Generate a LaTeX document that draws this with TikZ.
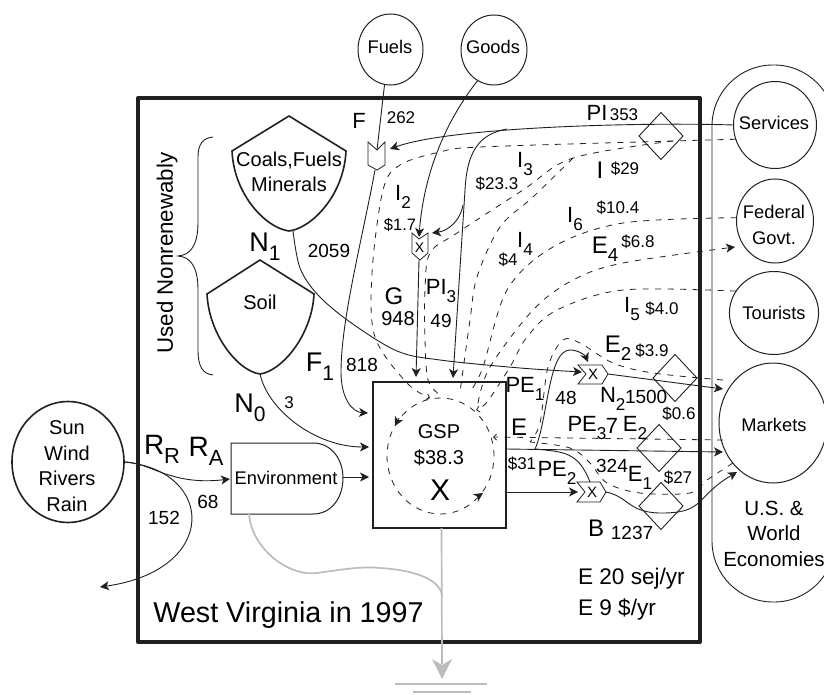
\documentclass[tikz,border=0pt]{standalone}
\usepackage{fontspec}
\setmainfont{Liberation Sans}
\usetikzlibrary{arrows.meta,shapes.geometric}
\definecolor{ink}{HTML}{231F20}
\definecolor{ash}{HTML}{BBBCBE}
\newcommand\sbs[1]{\raisebox{-0.33em}{\scalebox{0.78}{#1}}}
\tikzset{
 tip/.tip={Stealth[length=9pt,width=9pt,inset=2.5pt]},
 mini/.tip={Straight Barb[length=3pt,width=6pt]},
 every node/.style={inner sep=0pt,outer sep=0pt,text=black},
 fl/.style={line width=0.9pt,draw=ink},
 da/.style={line width=0.8pt,draw=ink,dash pattern=on 6pt off 6.5pt},
 circ/.style={ellipse,draw=ink,line width=1pt,align=center,font=\fontsize{18.3}{26}\selectfont},
 dia/.style={diamond,draw=ink,line width=0.9pt,minimum width=44pt,minimum height=47pt},
 valve/.style={line width=0.8pt,draw=ink,line join=miter},
 shield/.style={line width=1.6pt,draw=ink},
 t16/.style={font=\fontsize{16.5}{17}\selectfont},
 t17/.style={font=\fontsize{17}{17}\selectfont},
 t19/.style={font=\fontsize{19}{19}\selectfont},
 t22/.style={font=\fontsize{22}{22}\selectfont},
 t24/.style={font=\fontsize{24}{24}\selectfont},
 t27/.style={font=\fontsize{27}{27}\selectfont},
}
\begin{document}
\begin{tikzpicture}[x=1pt,y=-1pt]
\useasboundingbox (0,0) rectangle (824,695);
% frame
\draw[line width=4pt,draw=ink,line join=round] (138,98) rectangle (700,642);
% economies
\begin{scope}
\clip (0,0) rectangle (824,695);
\draw[line width=0.9pt,draw=ink,rounded corners=61pt] (712,65) rectangle (835,602);
\end{scope}
% source nodes
\node[circ,fill=white,minimum width=83pt,minimum height=87pt] (services) at (775,125) {};
\node[font=\fontsize{18.3}{19}\selectfont] (servicestxt) at (774,123) {Services};
\node[circ,fill=white,minimum width=77pt,minimum height=84pt] (federal) at (775,221) {};
\node[align=center,font=\fontsize{18.3}{26}\selectfont] (federaltxt) at (774,225) {Federal\\Govt.};
\node[circ,fill=white,minimum width=78pt,minimum height=83pt] (tourists) at (774,313) {Tourists};
\node[circ,fill=white,minimum width=108pt,minimum height=120pt] (markets) at (773,423) {};
\node[font=\fontsize{18.3}{19}\selectfont] (marketstxt) at (774,425) {Markets};
\node[circ,minimum width=65pt,minimum height=71pt] (fuels) at (390.5,49.5) {};
\node[font=\fontsize{18.3}{19}\selectfont] (fuelstxt) at (390,47) {Fuels};
\node[circ,minimum width=66pt,minimum height=70pt] (goods) at (494,50) {};
\node[font=\fontsize{18.3}{19}\selectfont] (goodstxt) at (493,47) {Goods};
\node[circ,line width=1.6pt,minimum width=112pt,minimum height=121pt] (sun) at (68,462) {};
\node[align=center,font=\fontsize{20}{25.7}\selectfont] (suntxt) at (67,466) {Sun\\Wind\\Rivers\\Rain};
\node[align=center,font=\fontsize{20.5}{25.5}\selectfont] (econ) at (774,533.5) {U.S. \&\\World\\Economies};
% shields
\draw[shield] (289,116) -- (346,151) .. controls (344,195) and (312,228) .. (289,231) .. controls (266,228) and (234,195) .. (232,151) -- cycle;
\draw[shield] (260,260) -- (314,294) .. controls (312,335) and (282,371) .. (260,374) .. controls (238,371) and (209,335) .. (207,294) -- cycle;
\node[align=center,font=\fontsize{20}{25}\selectfont] (coals) at (289,171.5) {Coals,Fuels\\Minerals};
\node[font=\fontsize{20}{20}\selectfont] (soil) at (260,302) {Soil};
\coordinate (coalsB) at (293,231);
\coordinate (soilB) at (260,374);
% brace
\draw[fl] (213,137) .. controls (203,138) and (198,144) .. (198,157) -- (198,222) .. controls (198,243) and (192,255) .. (178,256) .. controls (192,257) and (198,269) .. (198,290) -- (198,350) .. controls (198,367) and (203,374) .. (213,375);
\node[rotate=90,font=\fontsize{22.3}{23}\selectfont] (used) at (167,253) {Used Nonrenewably};
% environment
\draw[line width=1pt,draw=ink] (313,443) -- (231,443) -- (231,514) -- (313,514) .. controls (332,514) and (343,497) .. (343,478) .. controls (343,460) and (332,443) .. (313,443) -- cycle;
\node[font=\fontsize{18.3}{19}\selectfont] (envt) at (286,478) {Environment};
\coordinate (envW) at (230,479);
\coordinate (envE) at (343,477);
\coordinate (envS) at (249,514);
% GSP
\node[draw=ink,line width=2pt,minimum width=133pt,minimum height=146pt] (gsp) at (439.5,455) {};
\node[font=\fontsize{20}{26}\selectfont,align=center] (gsptxt) at (439,445) {GSP\\\$38.3};
\node[font=\fontsize{30}{30}\selectfont] (gspx) at (440,490) {X};
\node[ellipse,da,draw,minimum width=107pt,minimum height=116pt] (cyc) at (440.5,456) {};
\draw[fl,-tip] (399,418) -- (395,426);
\draw[fl,-tip] (477,497) -- (483,493);
% diamonds
\node[dia] (dPI) at (661,136) {};
\node[dia] (dE2a) at (675,378) {};
\node[dia] (dE2b) at (659,448) {};
\node[dia] (dE1) at (661,506) {};
% valves
\draw[valve] (368,142) -- (377,150) -- (385,142) -- (385,165) -- (377,170) -- (368,165) -- cycle;
\coordinate (vFin) at (377,150); \coordinate (vFout) at (375,170); \coordinate (vFr) at (390,149);
\draw[valve] (412,233) -- (419,239) -- (428,233) -- (428,253) -- (420,260) -- (412,253) -- cycle;
\node[font=\fontsize{14}{14}\selectfont] (vGx) at (419.5,248) {X};
\coordinate (vGin) at (419,237); \coordinate (vGout) at (419,260); \coordinate (vGr) at (432,233);
\draw[valve] (578,365) -- (602,365) -- (608,374) -- (602,384) -- (578,384) -- (586,374) -- cycle;
\node[font=\fontsize{15}{15}\selectfont] (vNx) at (593,374) {X};
\coordinate (vNw) at (582,372); \coordinate (vNe) at (608,374); \coordinate (vNt) at (588,362);
\draw[valve] (577,482) -- (600,482) -- (606,492) -- (600,502) -- (577,502) -- (585,492) -- cycle;
\node[font=\fontsize{15}{15}\selectfont] (vBx) at (592,492) {X};
\coordinate (vBw) at (578,492); \coordinate (vBe) at (606,492); \coordinate (vBt) at (590,482);
% solid flows
\draw[fl] (fuels.south) ++(-6,0) -- (vFin);
\draw[fl,-tip] (goods.-118) .. controls (448,118) and (424,170) .. (vGin);
\draw[fl,-tip] (services.west) .. controls (640,122) and (450,127) .. (vFr);
\draw[fl] (507,129) .. controls (480,134) and (467,150) .. (465,190);
\draw[fl,-tip] (465,190) -- (453,378);
\draw[fl,-tip] (463,205) .. controls (460,222) and (447,231) .. (vGr);
\draw[fl,-tip] (vGout) -- (416,377);
\draw[fl,-tip] (vFout) .. controls (362,240) and (341,320) .. (341,372) .. controls (341,398) and (352,412) .. (368,413);
\draw[fl,-tip] plot[smooth,tension=.55] coordinates {(coalsB) (300,268) (318,295) (350,322) (397,351) (440,360) (520,368) (vNw)};
\draw[fl,-tip] (vNe) -- (723,389);
\draw[fl,-tip] (soilB) .. controls (268,410) and (315,447) .. (369,447);
\draw[fl,-tip] (envE) -- (369,477);
\draw[fl,-tip] (sun.east) .. controls (150,462) and (170,486) .. (envW);
\draw[fl,-tip] (sun.east) .. controls (215,470) and (220,570) .. (100,587);
\draw[fl,-tip] (506,449) -- (723,452);
\draw[fl,-tip] (535,449) .. controls (548,420) and (548,350) .. (570,350) .. controls (578,350) and (585,355) .. (vNt);
\draw[fl] (535,449) .. controls (565,452) and (578,452) .. (vBt);
\draw[fl,-tip] (506,492) -- (vBw);
\draw[fl,-tip] (vBe) .. controls (630,497) and (628,514) .. (665,513) .. controls (705,512) and (695,497) .. (737,472);
% dashed flows
\draw[da,-mini] plot[smooth,tension=.55] coordinates {(services.200) (673,141) (480,147) (440,152) (400,165) (383,190) (372,273) (375,337) (407,383) (430,398)};
\draw[da] plot[smooth,tension=.55] coordinates {(673,141) (573,158) (523,190) (457,233) (430,253) (425,290) (425,340) (428,380) (440,395)};
\draw[da] plot[smooth,tension=.55] coordinates {(573,158) (533,197) (500,227) (477,277) (470,320) (460,392)};
\draw[da] plot[smooth,tension=.55] coordinates {(federal.175) (623,223) (553,247) (507,290) (483,367) (470,392)};
\draw[da,-tip] plot[smooth,tension=.55] coordinates {(478,403) (490,367) (533,310) (573,280) (623,263) (735,247)};
\draw[da,-mini] plot[smooth,tension=.55] coordinates {(tourists.150) (623,290) (557,310) (527,337) (510,367) (487,402) (476,410)};
\draw[da] plot[smooth,tension=.55] coordinates {(723,380) (653,373) (613,363) (580,343) (563,340) (548,367) (540,423) (530,442)};
\draw[da,-mini] (723,440) -- (493,437);
\draw[da] plot[smooth,tension=.55] coordinates {(733,463) (707,480) (690,493) (640,493) (607,483) (590,463) (570,448) (530,442)};
% ground
\draw[line width=1.7pt,draw=ash] (gsp.south) ++(2,0) -- (442,664);
\fill[ash] (432,659) -- (442,665) -- (452,659) -- (442,679) -- cycle;
\draw[line width=1.7pt,draw=ash] (envS) .. controls (252,550) and (290,577) .. (317,573) .. controls (340,570) and (360,566) .. (380,568) .. controls (415,570) and (442,580) .. (442,597);
\draw[line width=1.7pt,draw=ash] (395,684) -- (487,684);
\draw[line width=1.7pt,draw=ash] (413,692) -- (471,692);
% labels
\node[t27] (N1) at (265,247) {N\sbs{1}};
\node[t19] (l2059) at (329,251) {2059};
\node[t22] (lF) at (359,121) {F};
\node[t17] (l262) at (401,118) {262};
\node[t27] (F1) at (320,367) {F\sbs{1}};
\node[t19] (l818) at (362,365) {818};
\node[t24] (lG) at (394,296) {G};
\node[t19,font=\fontsize{20}{20}\selectfont] (l948) at (398,319) {948};
\node[t27] (N0) at (250,408) {N\sbs{0}};
\node[t17] (l3) at (289,403) {3};
\node[t27,font=\fontsize{28}{28}\selectfont] (RR) at (162,449) {R\sbs{R}};
\node[t27,font=\fontsize{28}{28}\selectfont] (RA) at (206,451) {R\sbs{A}};
\node[t19] (l68) at (208,502) {68};
\node[t19] (l152) at (164,518) {152};
\node[font=\fontsize{28.7}{29}\selectfont] (west) at (288.5,615) {West Virginia in 1997};
\node[t22] (PI) at (597,113) {PI};
\node[t17] (l353) at (624,115) {353};
\node[t22] (I3) at (525,164) {I\sbs{3}};
\node[t17] (d233) at (497,184) {\$23.3};
\node[t24] (lI) at (600,170) {I};
\node[t17] (d29) at (625,169) {\$29};
\node[t22] (I2) at (403,197) {I\sbs{2}};
\node[t16] (d17) at (400,225) {\$1.7};
\node[t17] (d104) at (618,208) {\$10.4};
\node[t22] (I6) at (575,219) {I\sbs{6}};
\node[t22] (I4) at (525,244) {I\sbs{4}};
\node[t17] (d4) at (508,260) {\$4};
\node[t24] (E4) at (605,249) {E\sbs{4}};
\node[t17] (d68) at (638,242) {\$6.8};
\node[t22] (PI3) at (441,291) {PI\sbs{3}};
\node[t19] (l49) at (441,321) {49};
\node[t22] (I5) at (632,309) {I\sbs{5}};
\node[t17] (d40) at (662,309) {\$4.0};
\node[t24] (E2a) at (618,348) {E\sbs{2}};
\node[t17] (d39) at (652,351) {\$3.9};
\node[t22] (PE1) at (525,389) {PE\sbs{1}};
\node[t19] (l48) at (566,398) {48};
\node[t22,anchor=west] (N2) at (600,399) {N\sbs{2}};
\node[t19,anchor=west] (l1500) at (625,397) {1500};
\node[t17] (d06) at (679,414) {\$0.6};
\node[t24] (lE) at (519,427) {E};
\node[t22] (PE3) at (587,428) {PE\sbs{3}};
\node[t22] (l7) at (612,426) {7};
\node[t22] (E2b) at (635,428) {E\sbs{2}};
\node[t17] (d31) at (522,464) {\$31};
\node[t22] (PE2) at (557,473) {PE\sbs{2}};
\node[t19] (l324) at (612,466) {324};
\node[t22] (E1) at (640,478) {E\sbs{1}};
\node[t17] (d27) at (678,478) {\$27};
\node[t24] (lB) at (596,528) {B};
\node[t19] (l1237) at (632,533) {1237};
\node[anchor=west,font=\fontsize{22.6}{23}\selectfont] (e20) at (578,579) {E 20 sej/yr};
\node[anchor=west,font=\fontsize{22.6}{23}\selectfont] (e9) at (578,609) {E 9 \$/yr};
\end{tikzpicture}
\end{document}
